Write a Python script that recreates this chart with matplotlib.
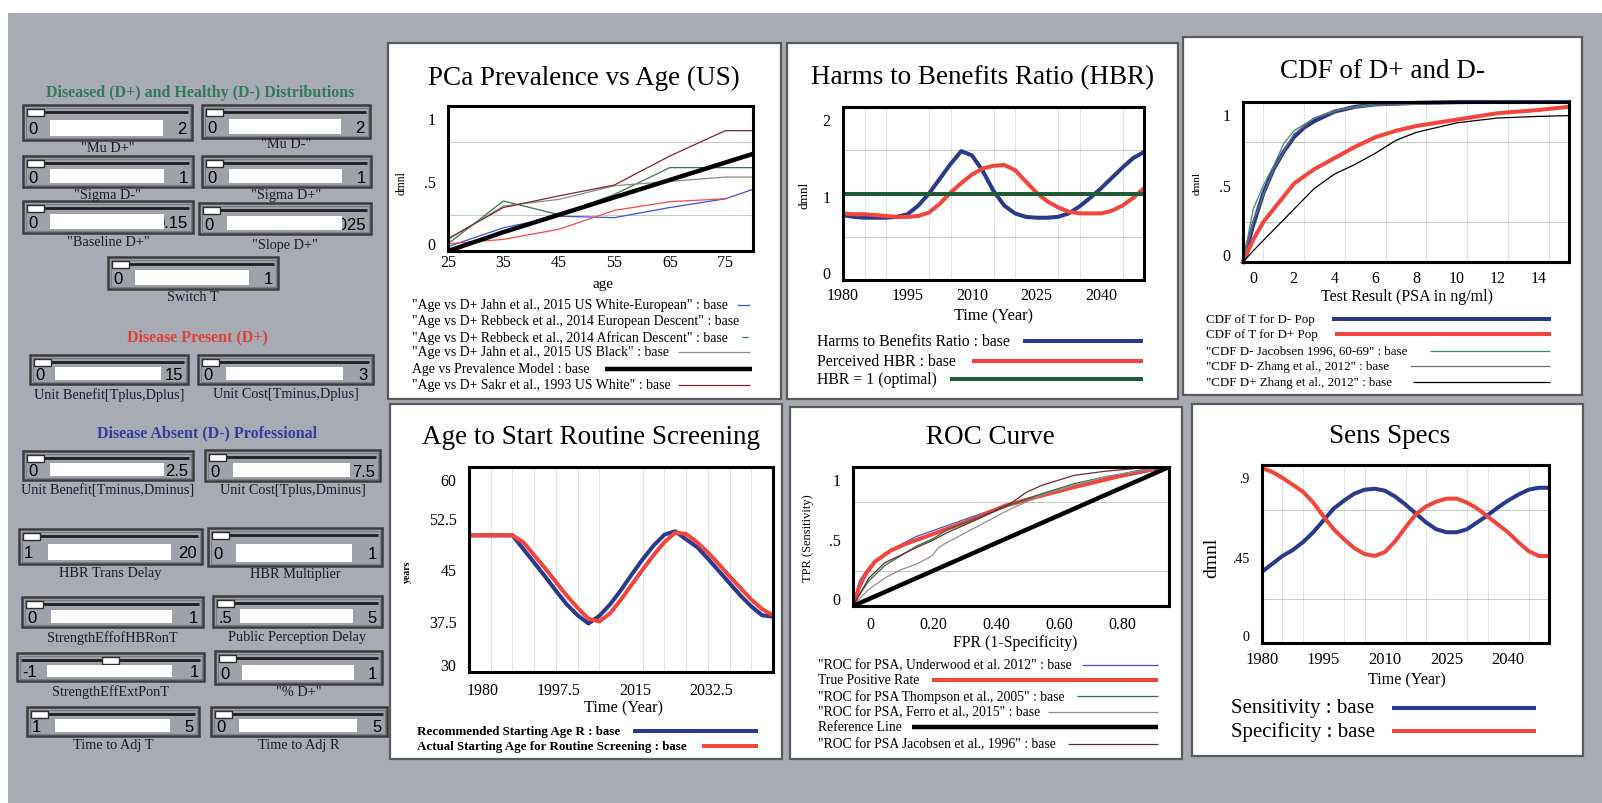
import numpy as np
import matplotlib
matplotlib.use('Agg')
import matplotlib.pyplot as plt
from matplotlib.patches import Rectangle
import matplotlib.transforms as mtransforms

plt.rcParams['font.family'] = 'Liberation Serif'

# ---- PCa prevalence vs age ----
ages = [25, 35, 45, 55, 65, 75, 80]
prev_jahn_white = [0.03, 0.16, 0.24, 0.23, 0.30, 0.36, 0.425]
prev_rebbeck_euro = [0.05, 0.08, 0.15, 0.28, 0.34, 0.36]
prev_rebbeck_afr = [0.05, 0.345, 0.25, 0.39, 0.575, 0.575, 0.575]
prev_jahn_black = [0.08, 0.31, 0.356, 0.45, 0.48, 0.51, 0.51]
prev_model = [0.0, 0.13, 0.25, 0.37, 0.49, 0.61, 0.67]
prev_sakr_white = [0.085, 0.30, 0.38, 0.455, 0.655, 0.83, 0.83]

# ---- time series, 1980-2050 every 2.5 years ----
years = np.arange(1980, 2050.1, 2.5)
hbr = [0.75, 0.73, 0.72, 0.72, 0.72, 0.73, 0.76, 0.86, 1.00, 1.17, 1.34, 1.49, 1.44,
       1.26, 1.03, 0.86, 0.77, 0.73, 0.72, 0.72, 0.73, 0.77, 0.85, 0.95, 1.06, 1.18,
       1.30, 1.41, 1.48]
hbr_perceived = [0.77, 0.76, 0.76, 0.75, 0.74, 0.73, 0.73, 0.74, 0.78, 0.88, 1.01, 1.12,
                 1.22, 1.29, 1.32, 1.33, 1.27, 1.14, 1.01, 0.91, 0.84, 0.79, 0.77, 0.77,
                 0.77, 0.80, 0.86, 0.95, 1.06]
hbr_optimal = 1.0

age_recommended = [50, 50, 50, 50, 50, 48.0, 46.0, 44.0, 41.9, 39.9, 38.3, 37.1, 38.2,
                   39.9, 42.0, 44.3, 46.5, 48.5, 50.1, 50.6, 49.4, 48.3, 46.6, 44.8,
                   43.0, 41.2, 39.6, 38.3, 38.1]
age_actual = [50, 50, 50, 50, 50, 49.0, 47.1, 45.2, 43.2, 41.2, 39.4, 37.8, 37.4, 38.6,
              40.6, 42.8, 45.0, 47.1, 49.0, 50.4, 50.2, 49.0, 47.5, 45.8, 44.0, 42.3,
              40.6, 39.2, 38.3]

sensitivity = [0.36, 0.40, 0.44, 0.47, 0.51, 0.56, 0.62, 0.68, 0.72, 0.755, 0.775, 0.78,
               0.77, 0.74, 0.70, 0.655, 0.61, 0.575, 0.56, 0.56, 0.575, 0.61, 0.645,
               0.685, 0.72, 0.75, 0.775, 0.785, 0.785]
specificity = [0.885, 0.865, 0.835, 0.80, 0.765, 0.71, 0.64, 0.575, 0.525, 0.48, 0.45,
               0.44, 0.46, 0.515, 0.585, 0.65, 0.69, 0.715, 0.73, 0.73, 0.71, 0.68, 0.64,
               0.60, 0.56, 0.51, 0.465, 0.44, 0.44]

# ---- CDF of test result ----
cdf_dminus_x = [0, 0.5, 1, 1.5, 2, 2.5, 3, 3.5, 4.5, 5.5, 6.5, 8.5, 10.5, 13, 16]
cdf_dminus = [0, 0.23, 0.43, 0.58, 0.69, 0.78, 0.84, 0.88, 0.94, 0.97, 0.985, 0.995,
              1.0, 1.0, 1.0]
cdf_dplus_x = [0, 0.5, 1, 1.5, 2.5, 3.5, 4.5, 5.5, 6.5, 7.5, 8.5, 10.5, 12.5, 14.5, 16]
cdf_dplus = [0, 0.14, 0.25, 0.33, 0.49, 0.58, 0.65, 0.72, 0.78, 0.82, 0.85, 0.89, 0.93,
             0.95, 0.97]
jacobsen_x = [0, 0.5, 1, 1.5, 2, 2.5, 3.5, 5, 7]
jacobsen_dminus = [0, 0.33, 0.48, 0.60, 0.74, 0.82, 0.90, 0.96, 1.0]
zhang_dminus_x = [0, 0.5, 1, 1.5, 2.5, 3.5, 4.5, 6.5, 10.5, 16]
zhang_dminus = [0, 0.25, 0.42, 0.58, 0.80, 0.90, 0.95, 0.98, 0.99, 1.0]
zhang_dplus_x = [0, 0.5, 1.5, 2.5, 3.5, 4.5, 5.5, 6.5, 7.5, 8.5, 10.5, 12.5, 14.5, 16]
zhang_dplus = [0, 0.07, 0.20, 0.33, 0.46, 0.55, 0.61, 0.68, 0.76, 0.81, 0.87, 0.90,
               0.91, 0.915]

# ---- ROC ----
roc_tpr_x = [0, 0.02, 0.04, 0.07, 0.12, 0.17, 0.28, 0.38, 0.48, 0.59, 0.69, 0.80, 0.90, 1.0]
roc_tpr = [0, 0.14, 0.23, 0.32, 0.40, 0.45, 0.54, 0.625, 0.72, 0.79, 0.85, 0.91, 0.965, 1.0]
roc_underwood_x = [0, 0.02, 0.05, 0.1, 0.2, 0.3, 0.4, 0.5, 0.6, 0.7, 0.8, 0.9, 1.0]
roc_underwood = [0, 0.18, 0.28, 0.38, 0.50, 0.58, 0.66, 0.74, 0.80, 0.86, 0.91, 0.95, 1.0]
roc_thompson_x = [0, 0.02, 0.05, 0.1, 0.15, 0.2, 0.25, 0.3, 0.4, 0.5, 0.6, 0.7, 0.8, 0.9, 1.0]
roc_thompson = [0, 0.08, 0.18, 0.29, 0.36, 0.43, 0.48, 0.55, 0.64, 0.73, 0.81, 0.88,
                0.93, 0.97, 1.0]
roc_ferro_x = [0, 0.02, 0.05, 0.1, 0.15, 0.2, 0.25, 0.27, 0.3, 0.35, 0.4, 0.5, 0.6, 0.7,
               0.8, 0.9, 1.0]
roc_ferro = [0, 0.05, 0.12, 0.20, 0.26, 0.30, 0.36, 0.42, 0.46, 0.52, 0.58, 0.70, 0.80,
             0.87, 0.93, 0.97, 1.0]
roc_jacobsen_x = [0, 0.05, 0.1, 0.2, 0.25, 0.3, 0.4, 0.5, 0.55, 0.6, 0.7, 0.8, 0.9, 1.0]
roc_jacobsen = [0, 0.20, 0.31, 0.42, 0.47, 0.53, 0.63, 0.74, 0.82, 0.87, 0.94, 0.97, 0.99, 1.0]
roc_reference = [0, 1]

NAVY = '#2b3a8c'
RED = '#f2453d'
DKGREEN = '#1f5c35'
TITLE_FS = 19.5

W, H = 1602, 804
fig = plt.figure(figsize=(W / 100, H / 100), dpi=100)
fig.patch.set_facecolor('white')

# pixel canvas for the control panel, frames and legends
bg = fig.add_axes([0, 0, 1, 1])
bg.set_xlim(0, W)
bg.set_ylim(H, 0)
bg.axis('off')
bg.add_patch(Rectangle((8, 14), W - 8, H - 14, fc='#a9abb4', ec='none', zorder=0))


def panel_axes(x0, y0, x1, y1):
    return fig.add_axes([x0 / W, 1 - y1 / H, (x1 - x0) / W, (y1 - y0) / H])


def shift(lbl, dx, dy):
    off = mtransforms.ScaledTranslation(dx / 100, -dy / 100, fig.dpi_scale_trans)
    lbl.set_transform(lbl.get_transform() + off)


def frame(ax, xlim, ylim, xt, xtl, yt, ytl, xg, yg, xdx=0, xpad=5, fs=11.5, yfs=11.5):
    ax.set_xlim(xlim)
    ax.set_ylim(ylim)
    ax.set_xticks(xt, xtl)
    ax.set_yticks(yt, ytl)
    ax.set_xticks(xg, minor=True)
    ax.set_yticks(yg, minor=True)
    ax.grid(which='minor', axis='y', color='#c8c8c8', lw=0.7)
    ax.grid(which='minor', axis='x', color='#e2e2e2', lw=0.7)
    ax.tick_params(which='both', length=0)
    ax.tick_params(axis='x', labelsize=fs, pad=xpad)
    ax.tick_params(axis='y', labelsize=yfs, pad=9)
    for s in ax.spines.values():
        s.set_linewidth(2.2)
        s.set_zorder(5)
    for lbl in ax.get_xticklabels():
        shift(lbl, xdx, 0)
    ylbls = ax.get_yticklabels()
    for i, lbl in enumerate(ylbls):
        dy = 12 if i == len(ylbls) - 1 else (-8 if i == 0 else 3)
        shift(lbl, 0, dy)


def legend_row(x, y, text, x0, x1, color, lw, fs, weight='normal'):
    bg.text(x, y, text, fontsize=fs, ha='left', va='center', fontweight=weight, zorder=3)
    if color is not None:
        bg.plot([x0, x1], [y, y], color=color, lw=lw, solid_capstyle='butt', zorder=3)


def panel(x0, y0, x1, y1, title, tx, ty):
    bg.add_patch(Rectangle((x0, y0), x1 - x0, y1 - y0, fc='white', ec='#5a5a5a', lw=1.6, zorder=1))
    bg.text(tx, ty, title, fontsize=TITLE_FS, ha='center', va='center', zorder=3)


def slider(x0, y0, x1, y1, lo, hi, name, name_y, knob=0.0):
    w, h = x1 - x0, y1 - y0
    bg.add_patch(Rectangle((x0, y0), w, h, fc='#a0a2ab', ec='#3c3c3c', lw=1.8, zorder=2))
    bg.add_patch(Rectangle((x0 + 2.5, y0 + 2.5), w - 5, h - 5, fc='none', ec='#7b7d84', lw=0.8, zorder=2))
    ty = y0 + 7
    kx = x0 + 4 + knob * (w - 26)
    bg.plot([x0 + 4, x1 - 4], [ty, ty], color='#1e1e1e', lw=2, zorder=3, solid_capstyle='butt')
    bg.add_patch(Rectangle((kx, ty - 3.5), 17, 7, fc='white', ec='#2e2e2e', lw=1, zorder=4))
    fx0, fx1 = x0 + 0.16 * w, x1 - 0.17 * w
    fy0, fy1 = y0 + 0.42 * h, y1 - 4
    vy = (fy0 + fy1) / 2 + 1
    bg.text(x1 - 5, vy, hi, ha='right', va='center', fontsize=12, family='Liberation Sans', zorder=3)
    bg.add_patch(Rectangle((fx0, fy0), fx1 - fx0, fy1 - fy0, fc='white', ec='none', zorder=4))
    bg.text(x0 + 5, vy, lo, ha='left', va='center', fontsize=12, family='Liberation Sans', zorder=3)
    bg.text((x0 + x1) / 2, name_y, name, ha='center', va='center', fontsize=10.3, color='#1a1a2a', zorder=3)


# ---- control panel ----
bg.text(200, 93, 'Diseased (D+) and Healthy (D-) Distributions', fontsize=11.5,
        fontweight='bold', color='#2f7a5a', ha='center', va='center')
slider(23, 106, 192, 141, '0', '2', '"Mu D+"', 148)
slider(202, 106, 370, 139, '0', '2', '"Mu D-"', 145)
slider(23, 157, 193, 188, '0', '1', '"Sigma D-"', 196)
slider(202, 157, 371, 188, '0', '1', '"Sigma D+"', 196)
slider(23, 202, 193, 234, '0', '0.15', '"Baseline D+"', 243)
slider(199, 204, 371, 235, '0', '0.025', '"Slope D+"', 245)
slider(108, 258, 278, 290, '0', '1', 'Switch T', 298)

bg.text(197, 337, 'Disease Present (D+)', fontsize=11.5, fontweight='bold',
        color='#e0403a', ha='center', va='center')
slider(30, 356, 188, 385, '0', '15', 'Unit Benefit[Tplus,Dplus]', 395)
slider(198, 356, 373, 385, '0', '3', 'Unit Cost[Tminus,Dplus]', 395)

bg.text(207, 433, 'Disease Absent (D-) Professional', fontsize=11.5, fontweight='bold',
        color='#2e3f9e', ha='center', va='center')
slider(23, 452, 193, 481, '0', '2.5', 'Unit Benefit[Tminus,Dminus]', 491)
slider(205, 451, 380, 482, '0', '7.5', 'Unit Cost[Tplus,Dminus]', 491)
slider(19, 530, 202, 565, '1', '20', 'HBR Trans Delay', 574)
slider(208, 529, 382, 567, '0', '1', 'HBR Multiplier', 575)
slider(22, 598, 203, 628, '0', '1', 'StrengthEffofHBRonT', 638)
slider(213, 597, 382, 628, '.5', '5', 'Public Perception Delay', 638)
slider(17, 654, 204, 682, '-1', '1', 'StrengthEffExtPonT', 692, knob=0.5)
slider(215, 652, 382, 685, '0', '1', '"% D+"', 693)
slider(27, 708, 199, 737, '1', '5', 'Time to Adj T', 746)
slider(211, 708, 387, 737, '0', '5', 'Time to Adj R', 746)

# ---- PCa Prevalence vs Age ----
panel(388, 44, 781, 400, 'PCa Prevalence vs Age (US)', 584, 78)
ax = panel_axes(448, 107, 753, 252)
ax.plot(ages, prev_jahn_white, color='#3f4fd8', lw=0.9)
ax.plot(ages[:-1], prev_rebbeck_euro, color='#f04a4a', lw=0.9)
ax.plot(ages, prev_rebbeck_afr, color='#2f7a4a', lw=0.9)
ax.plot(ages, prev_jahn_black, color='#8a8a8a', lw=0.9)
ax.plot(ages, prev_model, color='black', lw=3.2)
ax.plot(ages, prev_sakr_white, color='#7a2a30', lw=0.9)
frame(ax, (25, 80), (0, 1), [25, 35, 45, 55, 65, 75], ['25', '35', '45', '55', '65', '75'],
      [0, 0.5, 1], ['0', '.5', '1'], [35, 45, 55, 65, 75], [0.25, 0.5, 0.75], xpad=2)
bg.text(603, 285, 'age', fontsize=11, ha='center', va='center')
bg.text(402, 183, 'dmnl', fontsize=8.5, rotation=90, ha='center', va='center')
legend_row(412, 306, '"Age vs D+ Jahn et al., 2015 US White-European" : base', 737, 750, '#3f4fd8', 0.9, 9.9)
legend_row(412, 322, '"Age vs D+ Rebbeck et al., 2014 European Descent" : base', 0, 0, None, 0, 9.9)
legend_row(412, 338, '"Age vs D+ Rebbeck et al., 2014 African Descent" : base', 742, 748, '#2f7a4a', 0.9, 9.9)
legend_row(412, 353, '"Age vs D+ Jahn et al., 2015 US Black" : base', 678, 750, '#8a8a8a', 0.9, 9.9)
legend_row(412, 370, 'Age vs Prevalence Model : base', 605, 752, 'black', 3.2, 9.9)
legend_row(412, 386, '"Age vs D+ Sakr et al., 1993 US White" : base', 678, 750, '#7a2a30', 0.9, 9.9)

# ---- Harms to Benefits Ratio ----
panel(787, 44, 1178, 400, 'Harms to Benefits Ratio (HBR)', 983, 78)
ax = panel_axes(843, 108, 1144, 281)
ax.plot(years, hbr, color=NAVY, lw=2.9)
ax.plot(years, hbr_perceived, color=RED, lw=2.9)
ax.axhline(hbr_optimal, color=DKGREEN, lw=2.9)
frame(ax, (1980, 2050), (0, 2), [1980, 1995, 2010, 2025, 2040],
      ['1980', '1995', '2010', '2025', '2040'], [0, 1, 2], ['0', '1', '2'],
      np.arange(1985, 2050, 5), [0.5, 1.0, 1.5], xpad=5)
bg.text(993, 316, 'Time (Year)', fontsize=11.8, ha='center', va='center')
bg.text(805, 195, 'dmnl', fontsize=9.5, rotation=90, ha='center', va='center')
legend_row(817, 342, 'Harms to Benefits Ratio : base', 1023, 1143, NAVY, 2.9, 11.3)
legend_row(817, 362, 'Perceived HBR : base', 972, 1143, RED, 2.9, 11.3)
legend_row(817, 380, 'HBR = 1 (optimal)', 950, 1143, DKGREEN, 2.9, 11.3)

# ---- CDF of D+ and D- ----
panel(1183, 38, 1582, 396, 'CDF of D+ and D-', 1382, 72)
ax = panel_axes(1243, 103, 1569, 263)
ax.plot(cdf_dminus_x, cdf_dminus, color=NAVY, lw=2.9, clip_on=False)
ax.plot(cdf_dplus_x, cdf_dplus, color=RED, lw=2.9, clip_on=False)
ax.plot(jacobsen_x, jacobsen_dminus, color='#3c8c6c', lw=0.9)
ax.plot(zhang_dminus_x, zhang_dminus, color='#6e6e78', lw=0.9)
ax.plot(zhang_dplus_x, zhang_dplus, color='black', lw=0.9)
frame(ax, (0, 16), (0, 1), [0, 2, 4, 6, 8, 10, 12, 14],
      ['0', '2', '4', '6', '8', '10', '12', '14'], [0, 0.5, 1], ['0', '.5', '1'],
      np.arange(1, 16, 1), [0.25, 0.5, 0.75], xdx=10, xpad=6)
bg.text(1407, 297, 'Test Result (PSA in ng/ml)', fontsize=11.5, ha='center', va='center')
bg.text(1197, 183, 'dmnl', fontsize=8, rotation=90, ha='center', va='center')
legend_row(1206, 320, 'CDF of T for D- Pop', 1332, 1551, NAVY, 2.9, 9.4)
legend_row(1206, 335, 'CDF of T for D+ Pop', 1335, 1551, RED, 2.9, 9.4)
legend_row(1206, 352, '"CDF D- Jacobsen 1996, 60-69" : base', 1430, 1550, '#3c8c6c', 0.9, 9.4)
legend_row(1206, 367, '"CDF D- Zhang et al., 2012" : base', 1410, 1550, '#6e6e78', 0.9, 9.4)
legend_row(1206, 383, '"CDF D+ Zhang et al., 2012" : base', 1413, 1550, 'black', 0.9, 9.4)

# ---- Age to Start Routine Screening ----
panel(390, 405, 782, 760, 'Age to Start Routine Screening', 591, 438)
ax = panel_axes(469, 468, 773, 673)
ax.plot(years, age_recommended, color=NAVY, lw=2.9)
ax.plot(years, age_actual, color=RED, lw=2.9)
frame(ax, (1980, 2050), (30, 60), [1980, 1997.5, 2015, 2032.5],
      ['1980', '1997.5', '2015', '2032.5'], [30, 37.5, 45, 52.5, 60],
      ['30', '37.5', '45', '52.5', '60'], np.arange(1985, 2050, 5), [37.5, 45, 52.5],
      xdx=14, xpad=7)
for lbl in ax.get_yticklabels()[1:-1]:
    shift(lbl, 0, -3)
bg.text(623, 708, 'Time (Year)', fontsize=11.8, ha='center', va='center')
bg.text(407, 572, 'years', fontsize=7, fontweight='bold', rotation=90, ha='center', va='center')
legend_row(417, 732, 'Recommended Starting Age R : base', 633, 758, NAVY, 2.9, 9.4, 'bold')
legend_row(417, 747, 'Actual Starting Age for Routine Screening : base', 702, 758, RED, 2.9, 9.4, 'bold')

# ---- ROC Curve ----
panel(790, 408, 1182, 760, 'ROC Curve', 990, 438)
ax = panel_axes(853, 468, 1169, 607)
ax.plot(roc_underwood_x, roc_underwood, color='#4450d0', lw=0.9)
ax.plot(roc_tpr_x, roc_tpr, color=RED, lw=2.9)
ax.plot(roc_thompson_x, roc_thompson, color='#2e6e40', lw=0.9)
ax.plot(roc_ferro_x, roc_ferro, color='#909090', lw=0.9)
ax.plot(roc_reference, roc_reference, color='black', lw=3.2)
ax.plot(roc_jacobsen_x, roc_jacobsen, color='#6b2a35', lw=0.9)
frame(ax, (0, 1), (0, 1), [0, 0.2, 0.4, 0.6, 0.8], ['0', '0.20', '0.40', '0.60', '0.80'],
      [0, 0.5, 1], ['0', '.5', '1'], [0.2, 0.4, 0.6, 0.8], [0.25, 0.5, 0.75],
      xdx=17, xpad=7)
bg.text(1015, 643, 'FPR (1-Specificity)', fontsize=11.3, ha='center', va='center')
bg.text(808, 538, 'TPR (Sensitivity)', fontsize=9, rotation=90, ha='center', va='center')
legend_row(818, 666, '"ROC for PSA, Underwood et al. 2012" : base', 1082, 1158, '#4450d0', 0.9, 9.8)
legend_row(818, 681, 'True Positive Rate', 932, 1158, RED, 2.9, 9.8)
legend_row(818, 697, '"ROC for PSA Thompson et al., 2005" : base', 1077, 1158, '#2e6e40', 0.9, 9.8)
legend_row(818, 713, '"ROC for PSA, Ferro et al., 2015" : base', 1048, 1158, '#909090', 0.9, 9.8)
legend_row(818, 728, 'Reference Line', 912, 1158, 'black', 3.2, 9.8)
legend_row(818, 745, '"ROC for PSA Jacobsen et al., 1996" : base', 1068, 1158, '#6b2a35', 0.9, 9.8)

# ---- Sens Specs ----
panel(1192, 405, 1583, 757, 'Sens Specs', 1390, 437)
ax = panel_axes(1262, 466, 1549, 644)
ax.plot(years, sensitivity, color=NAVY, lw=2.9)
ax.plot(years, specificity, color=RED, lw=2.9)
frame(ax, (1980, 2050), (0, 0.9), [1980, 1995, 2010, 2025, 2040],
      ['1980', '1995', '2010', '2025', '2040'], [0, 0.45, 0.9], ['0', '.45', '.9'],
      np.arange(1985, 2050, 5), [0.225, 0.45, 0.675], xpad=6, fs=12, yfs=10)
bg.text(1407, 680, 'Time (Year)', fontsize=11.6, ha='center', va='center')
bg.text(1212, 558, 'dmnl', fontsize=14, rotation=90, ha='center', va='center')
legend_row(1231, 709, 'Sensitivity : base', 1392, 1536, NAVY, 2.9, 15)
legend_row(1231, 732, 'Specificity : base', 1392, 1536, RED, 2.9, 15)

fig.savefig('out.png', dpi=100)
